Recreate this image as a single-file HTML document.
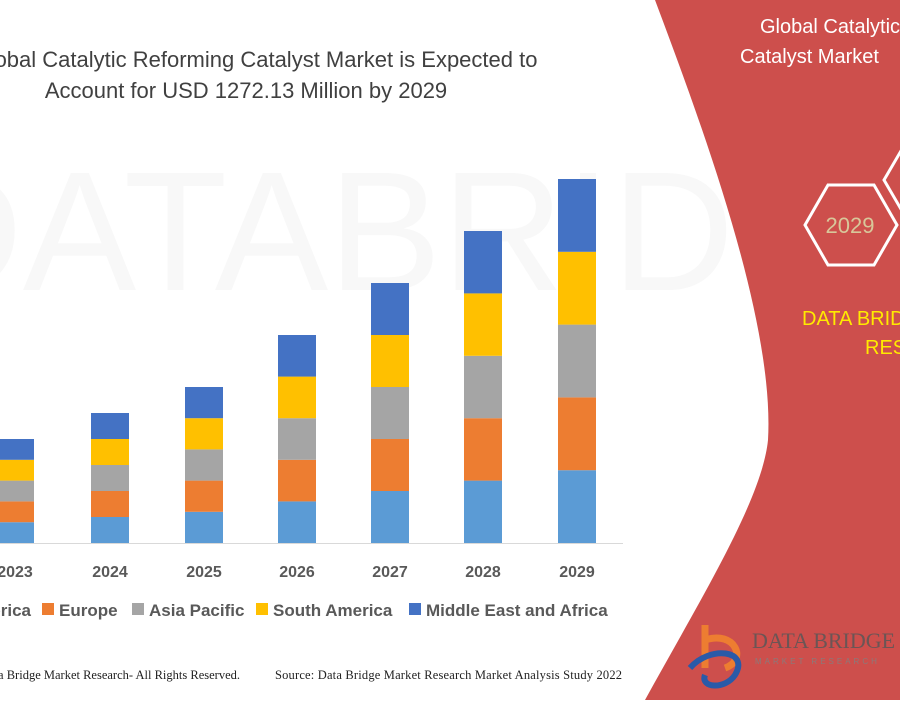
<!DOCTYPE html>
<html><head><meta charset="utf-8"><style>
body{margin:0;width:900px;height:700px;overflow:hidden;background:#fff;font-family:"Liberation Sans",sans-serif}
</style></head><body>
<svg width="900" height="700" xmlns="http://www.w3.org/2000/svg">
<rect width="900" height="700" fill="#fff"/>
<text x="440" y="290" font-size="170" fill="#f8f8f8" text-anchor="middle" font-family="Liberation Sans">DATABRIDGE</text>
<path d="M655,0 C700,120 775,320 768,440 C762,500 700,600 645,700 L900,700 L900,0 Z" fill="#cd4f4c"/>
<g font-family="Liberation Sans" fill="#fff" font-size="20">
<text x="760" y="33">Global Catalytic Reforming</text>
<text x="740" y="63">Catalyst Market</text>
</g>
<polygon points="805,225 828,185 874,185 897,225 874,265 828,265" fill="none" stroke="#fff" stroke-width="3"/>
<polygon points="884,180 905,144 950,144 970,180 950,216 905,216" fill="none" stroke="#fff" stroke-width="3"/>
<text x="850" y="233" font-size="22" fill="#d8c79a" text-anchor="middle">2029</text>
<text x="802" y="325" font-size="20" fill="#ffea00">DATA BRIDGE MARKET</text>
<text x="865" y="354" font-size="20" fill="#ffea00">RESEARCH</text>
<g font-size="22" fill="#404040" text-anchor="middle">
<text x="255" y="67">Global Catalytic Reforming Catalyst Market is Expected to</text>
<text x="246" y="98">Account for USD 1272.13 Million by 2029</text>
</g>
<g>
<rect x="-4" y="522.2" width="38" height="20.8" fill="#5b9bd5"/><rect x="-4" y="501.4" width="38" height="20.8" fill="#ed7d31"/><rect x="-4" y="480.6" width="38" height="20.8" fill="#a5a5a5"/><rect x="-4" y="459.8" width="38" height="20.8" fill="#ffc000"/><rect x="-4" y="439" width="38" height="20.8" fill="#4472c4"/>
<rect x="91" y="517" width="38" height="26" fill="#5b9bd5"/><rect x="91" y="491" width="38" height="26" fill="#ed7d31"/><rect x="91" y="465" width="38" height="26" fill="#a5a5a5"/><rect x="91" y="439" width="38" height="26" fill="#ffc000"/><rect x="91" y="413" width="38" height="26" fill="#4472c4"/>
<rect x="185" y="511.8" width="38" height="31.2" fill="#5b9bd5"/><rect x="185" y="480.6" width="38" height="31.2" fill="#ed7d31"/><rect x="185" y="449.4" width="38" height="31.2" fill="#a5a5a5"/><rect x="185" y="418.2" width="38" height="31.2" fill="#ffc000"/><rect x="185" y="387" width="38" height="31.2" fill="#4472c4"/>
<rect x="278" y="501.4" width="38" height="41.6" fill="#5b9bd5"/><rect x="278" y="459.8" width="38" height="41.6" fill="#ed7d31"/><rect x="278" y="418.2" width="38" height="41.6" fill="#a5a5a5"/><rect x="278" y="376.6" width="38" height="41.6" fill="#ffc000"/><rect x="278" y="335" width="38" height="41.6" fill="#4472c4"/>
<rect x="371" y="491" width="38" height="52" fill="#5b9bd5"/><rect x="371" y="439" width="38" height="52" fill="#ed7d31"/><rect x="371" y="387" width="38" height="52" fill="#a5a5a5"/><rect x="371" y="335" width="38" height="52" fill="#ffc000"/><rect x="371" y="283" width="38" height="52" fill="#4472c4"/>
<rect x="464" y="480.6" width="38" height="62.4" fill="#5b9bd5"/><rect x="464" y="418.2" width="38" height="62.4" fill="#ed7d31"/><rect x="464" y="355.8" width="38" height="62.4" fill="#a5a5a5"/><rect x="464" y="293.4" width="38" height="62.4" fill="#ffc000"/><rect x="464" y="231" width="38" height="62.4" fill="#4472c4"/>
<rect x="558" y="470.2" width="38" height="72.8" fill="#5b9bd5"/><rect x="558" y="397.4" width="38" height="72.8" fill="#ed7d31"/><rect x="558" y="324.6" width="38" height="72.8" fill="#a5a5a5"/><rect x="558" y="251.8" width="38" height="72.8" fill="#ffc000"/><rect x="558" y="179" width="38" height="72.8" fill="#4472c4"/>
</g>
<line x1="0" y1="543.5" x2="623" y2="543.5" stroke="#d9d9d9" stroke-width="1"/>
<g font-size="16" font-weight="bold" fill="#595959" text-anchor="middle">
<text x="15" y="577">2023</text><text x="110" y="577">2024</text><text x="204" y="577">2025</text>
<text x="297" y="577">2026</text><text x="390" y="577">2027</text><text x="483" y="577">2028</text><text x="577" y="577">2029</text>
</g>
<g font-size="17" font-weight="bold" fill="#595959">
<text x="31" y="616" text-anchor="end">North America</text>
<rect x="42" y="603" width="12" height="12" fill="#ed7d31"/><text x="59" y="616">Europe</text>
<rect x="132" y="603" width="12" height="12" fill="#a5a5a5"/><text x="149" y="616">Asia Pacific</text>
<rect x="256" y="603" width="12" height="12" fill="#ffc000"/><text x="273" y="616">South America</text>
<rect x="409" y="603" width="12" height="12" fill="#4472c4"/><text x="426" y="616">Middle East and Africa</text>
</g>
<g font-family="Liberation Serif" font-size="12.5" fill="#222">
<text x="240" y="679" text-anchor="end">© Data Bridge Market Research- All Rights Reserved.</text>
<text x="275" y="679" textLength="347">Source: Data Bridge Market Research Market Analysis Study 2022</text>
</g>
<path d="M705,625 L705,668 M705,640 C735,630 748,660 725,668" stroke="#ed7d31" stroke-width="7" fill="none"/>
<path d="M690,668 C710,645 750,650 735,675 C725,690 700,688 705,675" stroke="#2a5aa8" stroke-width="6" fill="none"/>
<text x="752" y="648" font-size="22" fill="#6b5555" font-family="Liberation Serif">DATA BRIDGE</text>
<text x="755" y="664" font-size="8" fill="#8a7a7a" letter-spacing="3">MARKET RESEARCH</text>
</svg>
</body></html>
